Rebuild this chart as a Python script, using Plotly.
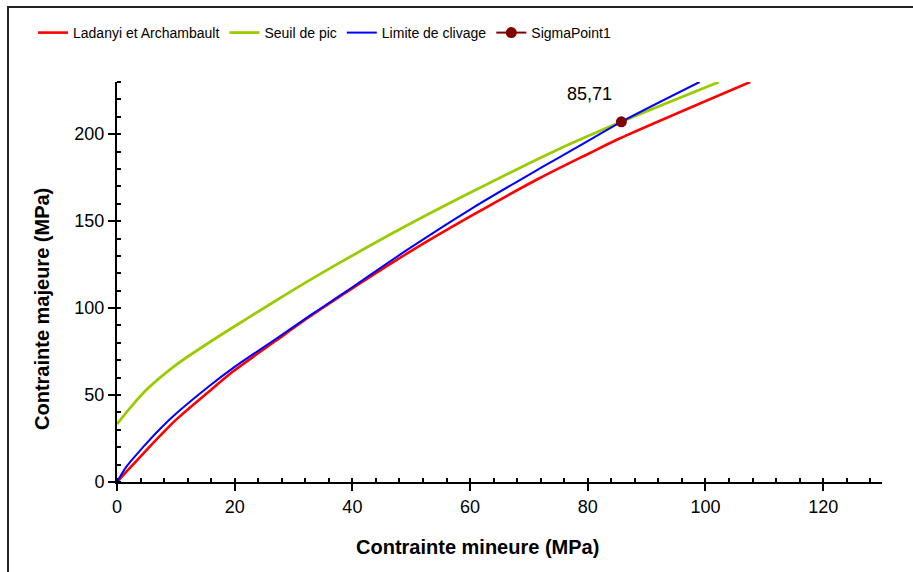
import plotly.graph_objects as go

# ---- data ----
red_x = [0, 1.6, 4.5, 7.3, 10.1, 15.8, 19.7, 27.1, 32.7, 37.8, 41.2, 49.1, 60.4, 71.7, 80.2, 85.4, 107.6]
red_y = [0, 5.9, 16.5, 26.5, 36.0, 52.5, 63.5, 81.5, 95.0, 106.5, 114.0, 131.0, 153.4, 174.5, 188.9, 197.5, 230.0]

green_x = [0, 2.2, 5.0, 10.1, 15.8, 21.4, 27.1, 32.1, 37.8, 49.0, 60.4, 74.5, 85.7, 102.3]
green_y = [33.3, 42.5, 53.0, 67.5, 80.5, 92.5, 104.5, 114.8, 126.0, 147.0, 167.0, 190.5, 207.1, 230.0]

blue_x = [0, 1.6, 4.5, 7.3, 10.1, 15.8, 19.7, 27.1, 32.7, 37.8, 41.2, 49.1, 60.4, 71.7, 78.5, 85.7, 99.0]
blue_y = [0, 8.8, 20.3, 30.5, 39.5, 55.5, 65.5, 82.5, 95.5, 107.0, 114.8, 133.0, 157.5, 180.0, 193.1, 207.1, 230.0]

point_x = [85.71]
point_y = [207.1]
point_label = "85,71"

names = ["Ladanyi et Archambault", "Seuil de pic", "Limite de clivage", "SigmaPoint1"]
x_title = "Contrainte mineure (MPa)"
y_title = "Contrainte majeure (MPa)"

W, H = 913, 572
L, R, T, B = 117, 882, 82, 482

fig = go.Figure()
fig.add_trace(go.Scatter(x=red_x, y=red_y, mode="lines", name=names[0],
                         line=dict(color="#FF0000", width=2.6, shape="spline", smoothing=0.8)))
fig.add_trace(go.Scatter(x=green_x, y=green_y, mode="lines", name=names[1],
                         line=dict(color="#99CC00", width=2.8, shape="spline", smoothing=0.8)))
fig.add_trace(go.Scatter(x=blue_x, y=blue_y, mode="lines", name=names[2],
                         line=dict(color="#0000FF", width=2, shape="spline", smoothing=0.8)))
fig.add_trace(go.Scatter(x=point_x, y=point_y, mode="lines+markers", name=names[3],
                         line=dict(color="#800000", width=2),
                         marker=dict(color="#800000", size=11)))

fig.add_annotation(x=point_x[0], y=point_y[0], text=point_label, showarrow=False,
                   xshift=-32, yshift=28,
                   font=dict(family="Liberation Sans, Arial", size=18, color="black"))

fig.add_annotation(xref="paper", yref="paper", x=(477 - L) / (R - L), y=(B - 547) / (B - T),
                   xanchor="center", yanchor="middle",
                   text="<b>" + x_title + "</b>", showarrow=False,
                   font=dict(family="Liberation Sans, Arial", size=20, color="black"))
fig.add_annotation(xref="paper", yref="paper", x=(42 - L) / (R - L), y=(B - 309) / (B - T),
                   xanchor="center", yanchor="middle",
                   text="<b>" + y_title + "</b>", showarrow=False, textangle=-90,
                   font=dict(family="Liberation Sans, Arial", size=20, color="black"))

# outer border
fig.add_shape(type="rect", xref="paper", yref="paper",
              x0=(8 - L) / (R - L), x1=(940 - L) / (R - L),
              y0=(B - 600) / (B - T), y1=(B - 7) / (B - T),
              line=dict(color="#222222", width=2))

axis_common = dict(showgrid=False, zeroline=False, showline=True, linecolor="black", linewidth=2,
                   ticks="outside", ticklen=7, tickwidth=2, tickcolor="black",
                   tickfont=dict(family="Liberation Sans, Arial", size=18, color="black"),
                   minor=dict(ticks="inside", ticklen=4, tickwidth=1.5, tickcolor="black", showgrid=False))

fig.update_xaxes(range=[0, 130], tick0=0, dtick=20, minor_dtick=4, **axis_common)
fig.update_yaxes(range=[0, 230], tick0=0, dtick=50, minor_dtick=10, **axis_common)

fig.update_layout(
    width=W, height=H,
    margin=dict(l=L, r=W - R, t=T, b=H - B),
    paper_bgcolor="white", plot_bgcolor="white",
    showlegend=True,
    legend=dict(orientation="h", xref="container", yref="container",
                x=33 / W, y=1 - 33 / H, xanchor="left", yanchor="middle",
                itemwidth=30, bgcolor="rgba(0,0,0,0)",
                font=dict(family="Liberation Sans, Arial", size=14, color="black")),
)

fig.write_html("out.html", config={"displayModeBar": False},
               post_script="document.body.style.margin='0';")
